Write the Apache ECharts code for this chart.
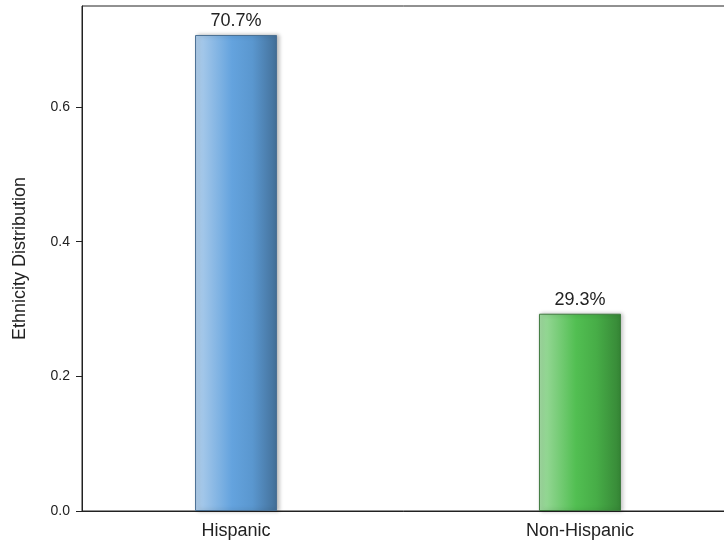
<!DOCTYPE html>
<html>
<head>
<meta charset="utf-8">
<script src="https://cdn.jsdelivr.net/npm/echarts@6/dist/echarts.min.js"></script>
<style>
  html, body { margin: 0; padding: 0; background: #fff; }
  #chart { width: 724px; height: 545px; }
</style>
</head>
<body>
<div id="chart"></div>
<script>
// Ethnicity shares
const categories = ['Hispanic', 'Non-Hispanic'];
const shares = [0.707, 0.293];
const yTicks = [0, 0.2, 0.4, 0.6];

// Horizontal "cylinder" gradients per bar
const barFills = [
  { stops: ['#b3d0ec', '#64a3de', '#5a97cf', '#436f98'], border: '#4a6f92' },
  { stops: ['#a3dca3', '#52bf52', '#47ad47', '#368636'], border: '#3f7a3f' }
];

function gradient(c) {
  return new echarts.graphic.LinearGradient(0, 0, 1, 0, [
    { offset: 0, color: c[0] },
    { offset: 0.45, color: c[1] },
    { offset: 0.7, color: c[2] },
    { offset: 1, color: c[3] }
  ]);
}

const chart = echarts.init(document.getElementById('chart'), null, { renderer: 'canvas' });

const FONT = 'Liberation Sans, Arial, sans-serif';

chart.setOption({
  animation: false,
  grid: {
    left: 82, top: 6, width: 652, bottom: 34,
    outerBoundsMode: 'none',
    containLabel: false,
    show: true, borderColor: '#222', borderWidth: 1, backgroundColor: 'transparent'
  },
  xAxis: {
    type: 'value',
    min: -0.448, max: 1.448,
    splitLine: { show: false },
    axisLine: { show: true, onZero: false, lineStyle: { color: '#222' } },
    axisTick: { show: false },
    axisLabel: {
      customValues: categories.map((_, i) => i),
      formatter: v => categories[Math.round(v)] || '',
      color: '#222', fontSize: 18, fontFamily: FONT, margin: 11
    }
  },
  yAxis: {
    type: 'value',
    min: 0, max: 0.75,
    name: 'Ethnicity Distribution',
    nameLocation: 'middle',
    nameGap: 53,
    nameTextStyle: { color: '#222', fontSize: 18, fontFamily: FONT },
    splitLine: { show: false },
    axisLine: { show: true, onZero: false, lineStyle: { color: '#222' } },
    axisTick: { show: true, length: 6, lineStyle: { color: '#222' }, customValues: yTicks },
    axisLabel: {
      customValues: yTicks,
      formatter: v => v.toFixed(1),
      color: '#222', fontSize: 14, fontFamily: FONT, margin: 12
    }
  },
  series: [{
    type: 'bar',
    barWidth: 82,
    data: shares.map((v, i) => ({
      value: [i, v],
      itemStyle: {
        color: gradient(barFills[i].stops),
        borderColor: barFills[i].border,
        borderWidth: 1,
        shadowColor: 'rgba(0,0,0,0.25)',
        shadowBlur: 4,
        shadowOffsetX: 2
      }
    })),
    label: {
      show: true,
      position: 'top',
      distance: 5,
      formatter: p => (p.value[1] * 100).toFixed(1) + '%',
      color: '#222', fontSize: 18, fontFamily: FONT
    }
  }]
});
</script>
</body>
</html>
